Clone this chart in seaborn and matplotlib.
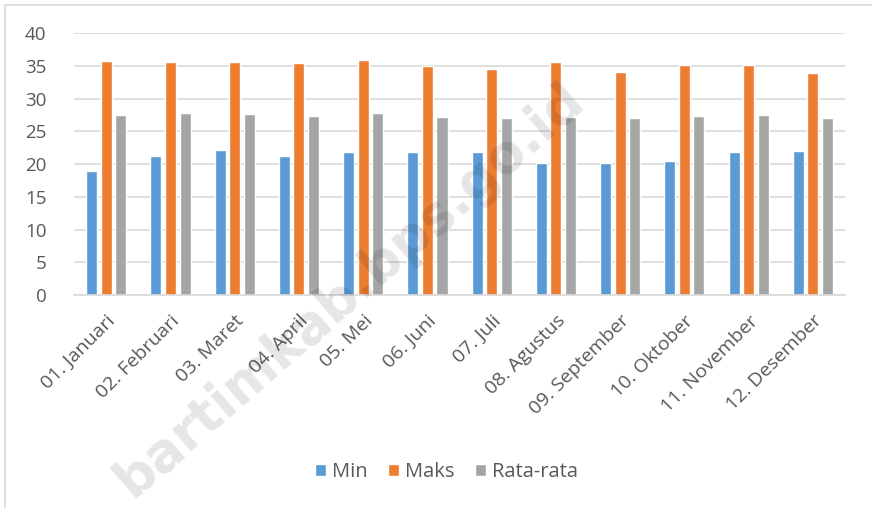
import numpy as np
import pandas as pd
import matplotlib
matplotlib.use("Agg")
import matplotlib.pyplot as plt
import seaborn as sns
from matplotlib.patches import Rectangle

# Monthly temperature (Min / Maks / Rata-rata)
months = ["01. Januari", "02. Februari", "03. Maret", "04. April", "05. Mei", "06. Juni",
          "07. Juli", "08. Agustus", "09. September", "10. Oktober", "11. November", "12. Desember"]
t_min = [19.0, 21.3, 22.1, 21.3, 21.9, 21.9, 21.8, 20.2, 20.1, 20.5, 21.8, 22.0]
t_max = [35.7, 35.6, 35.6, 35.4, 35.9, 34.9, 34.5, 35.6, 34.1, 35.1, 35.1, 33.9]
t_avg = [27.5, 27.8, 27.6, 27.3, 27.8, 27.2, 27.0, 27.2, 27.1, 27.3, 27.5, 27.0]
series = ["Min", "Maks", "Rata-rata"]
colors = ["#5B9BD5", "#ED7D31", "#A5A5A5"]

df = pd.DataFrame({"Bulan": months, "Min": t_min, "Maks": t_max, "Rata-rata": t_avg})
long = df.melt(id_vars="Bulan", var_name="Seri", value_name="Suhu")

sns.set_style("white")
plt.rcParams['font.family'] = ['Open Sans', 'DejaVu Sans']
txt = "#595959"

fig = plt.figure(figsize=(8.72, 5.08), dpi=100)
ax = fig.add_axes([0.085, 0.419, 0.884, 0.516])

sns.barplot(data=long, x="Bulan", y="Suhu", hue="Seri", hue_order=series,
            palette=colors, width=0.68, gap=0.24, saturation=1, ax=ax, legend=True)

ax.set_ylim(0, 40)
ax.set_yticks(range(0, 41, 5))
ax.set_xlim(-0.5, len(months) - 0.5)
ax.yaxis.grid(True, color="#D9D9D9", linewidth=1.2)
ax.set_axisbelow(True)
for s in ["top", "right", "left"]:
    ax.spines[s].set_visible(False)
ax.spines["bottom"].set_color("#D9D9D9")
ax.spines["bottom"].set_linewidth(1.2)
ax.set_xlabel("")
ax.set_ylabel("")
ax.tick_params(axis="both", length=0, colors=txt)
ax.tick_params(axis="y", pad=20, labelsize=13.5)
ax.tick_params(axis="x", pad=12, labelsize=14)
plt.setp(ax.get_xticklabels(), rotation=45, ha="right", rotation_mode="anchor")

handles, labels = ax.get_legend_handles_labels()
ax.legend(handles, labels, loc="center", bbox_to_anchor=(0.512, 1 - 472 / 508),
          bbox_transform=fig.transFigure, ncol=3, frameon=False, fontsize=14.5,
          labelcolor=txt, handlelength=0.55, handleheight=0.55, handletextpad=0.3,
          columnspacing=1.0)

# watermark
fig.text(350 / 872, 1 - 290 / 508, "bartimkab.bps.go.id", rotation=41, fontsize=38,
         fontweight="bold", family="DejaVu Sans", color="#000000", alpha=0.1,
         ha="center", va="center")

# chart frame
fig.patches.append(Rectangle((5 / 872, -0.05), 1.1, 1 - 5 / 508 + 0.05, transform=fig.transFigure,
                             fill=False, edgecolor="#D9D9D9", linewidth=1.2))

fig.savefig("out.png", dpi=100)
